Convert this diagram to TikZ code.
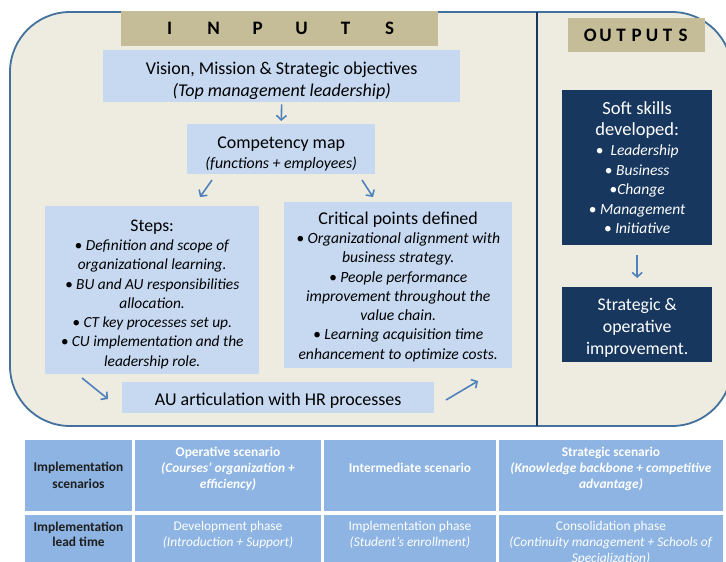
\documentclass[tikz,border=0pt]{standalone}
\usepackage{fontspec}
\setmainfont{Carlito}
\usetikzlibrary{arrows.meta}
\definecolor{bgc}{HTML}{EEECE1}
\definecolor{bord}{HTML}{41719C}
\definecolor{lbox}{HTML}{C6D9F1}
\definecolor{tanc}{HTML}{C4BD97}
\definecolor{navy}{HTML}{17375E}
\definecolor{arrc}{HTML}{4F81BD}
\definecolor{cellc}{HTML}{8DB4E2}
\definecolor{darktxt}{HTML}{1E1E1E}
\begin{document}
\begin{tikzpicture}[x=1pt,y=-1pt,
  lb/.style={fill=lbox, inner sep=0pt, align=center, anchor=north west},
  db/.style={fill=navy, text=white, inner sep=0pt, align=center, anchor=north west},
  tb/.style={fill=tanc, inner sep=0pt, align=center, anchor=north west, font=\fontsize{19}{20}\selectfont\bfseries},
  cellbox/.style={fill=cellc, inner sep=0pt, anchor=north west},
  ttxt/.style={inner sep=0pt, align=center, font=\fontsize{13.4}{16}\selectfont},
  arr/.style={draw=arrc, line width=1.6pt, -{Straight Barb[length=4.5pt,width=10pt]}}
]
\clip (0,0) rectangle (726,562);
\fill[white] (0,0) rectangle (726,562);
% main frame
\draw[fill=bgc, draw=bord, line width=1.8pt, rounded corners=60pt] (10,12) rectangle (732,426);
\draw[navy, line width=1.5pt] (537,12) -- (537,426);
% headers
\node[tb, minimum width=317pt, minimum height=35pt] (inputs) at (121,11)
  {\makebox[44pt]{I}\makebox[44pt]{N}\makebox[44pt]{P}\makebox[44pt]{U}\makebox[44pt]{T}\makebox[44pt]{S}};
\node[tb, minimum width=137pt, minimum height=34pt] (outputs) at (568,18)
  {\makebox[15.5pt]{O}\makebox[15.5pt]{U}\makebox[15.5pt]{T}\makebox[15.5pt]{P}\makebox[15.5pt]{U}\makebox[15.5pt]{T}\makebox[15.5pt]{S}};
% inputs boxes
\node[lb, minimum width=357pt, minimum height=52pt, font=\fontsize{18}{22}\selectfont] (vision) at (103,50)
  {\rule{0pt}{21.5pt}Vision, Mission \& Strategic objectives\\\textit{(Top management leadership)}};
\node[lb, minimum width=188pt, minimum height=50pt, font=\fontsize{17.9}{20}\selectfont] (comp) at (187,124)
  {\rule{0pt}{21.5pt}Competency map\\{\fontsize{15.8}{20}\selectfont\itshape (functions + employees)}};
\node[lb, minimum width=214pt, minimum height=168pt, font=\fontsize{15.4}{19.3}\selectfont] (steps) at (45,206)
  {{\fontsize{17.7}{19.3}\selectfont\rule{0pt}{19.5pt}Steps:}\\
   \textit{• Definition and scope of}\\
   \textit{organizational learning.}\\
   \textit{• BU and AU responsibilities}\\
   \textit{allocation.}\\
   \textit{• CT key processes set up.}\\
   \textit{• CU implementation and the}\\
   \textit{leadership role.}};
\node[lb, minimum width=228pt, minimum height=166pt, font=\fontsize{15.6}{19.3}\selectfont] (crit) at (284,202)
  {{\fontsize{18}{19.3}\selectfont\rule{0pt}{15.5pt}Critical points defined}\\
   \textit{• Organizational alignment with}\\
   \textit{business strategy.}\\
   \textit{• People performance}\\
   \textit{improvement throughout the}\\
   \textit{value chain.}\\
   \textit{• Learning acquisition time}\\
   \textit{enhancement to optimize costs.}};
\node[lb, minimum width=312pt, minimum height=31pt, font=\fontsize{18}{20}\selectfont] (au) at (122,382)
  {\rule{0pt}{17.5pt}AU articulation with HR processes};
% outputs boxes
\node[db, minimum width=150pt, minimum height=155pt, font=\fontsize{15.5}{19.5}\selectfont] (soft) at (562,90)
  {{\fontsize{18.5}{21}\selectfont Soft skills}\\[1.5pt]
   {\fontsize{18.5}{21}\selectfont developed:}\\[1pt]
   •\ \ \textit{Leadership}\\
   • \textit{Business}\\
   •\textit{Change}\\
   • \textit{Management}\\
   • \textit{Initiative}};
\node[db, minimum width=150pt, minimum height=75pt, font=\fontsize{17.8}{22}\selectfont] (strat) at (562,287)
  {\rule{0pt}{17.5pt}Strategic \&\\operative\\improvement.};
% arrows
\coordinate (a1s) at (212,180); \coordinate (a1e) at (200,197);
\coordinate (a2s) at (362,180); \coordinate (a2e) at (373,197);
\coordinate (a3s) at (82,378);  \coordinate (a3e) at (108,399);
\coordinate (a4s) at (446,400); \coordinate (a4e) at (478,381);
\draw[arr, shorten <=2pt, shorten >=3pt] (vision.south) -- (comp.north);
\draw[arr] (a1s) -- (a1e);
\draw[arr] (a2s) -- (a2e);
\draw[arr] (a3s) -- (a3e);
\draw[arr] (a4s) -- (a4e);
\draw[arr, shorten <=10pt, shorten >=9pt] (soft.south) -- (strat.north);
% table
\node[cellbox, minimum width=107pt, minimum height=71pt] (c11) at (25,440) {};
\node[cellbox, minimum width=186pt, minimum height=71pt] (c12) at (135,440) {};
\node[cellbox, minimum width=172pt, minimum height=71pt] (c13) at (324,440) {};
\node[cellbox, minimum width=224pt, minimum height=71pt] (c14) at (499,440) {};
\node[cellbox, minimum width=107pt, minimum height=60pt] (c21) at (25,515) {};
\node[cellbox, minimum width=186pt, minimum height=60pt] (c22) at (135,515) {};
\node[cellbox, minimum width=172pt, minimum height=60pt] (c23) at (324,515) {};
\node[cellbox, minimum width=224pt, minimum height=60pt] (c24) at (499,515) {};
\node[ttxt, text=darktxt, font=\fontsize{13.4}{17}\selectfont\bfseries] (t11) at (78.5,475.5) {Implementation\\scenarios};
\node[ttxt, text=white, font=\fontsize{13.4}{16}\selectfont\bfseries] (t12) at (228,468.5) {Operative scenario\\\textit{(Courses’ organization +}\\\textit{efficiency)}};
\node[ttxt, text=white, font=\fontsize{13.4}{16}\selectfont\bfseries] (t13) at (410,468) {Intermediate scenario};
\node[ttxt, text=white, font=\fontsize{13.4}{16}\selectfont\bfseries] (t14) at (611,468.5) {Strategic scenario\\\textit{(Knowledge backbone + competitive}\\\textit{advantage)}};
\node[ttxt, text=darktxt, font=\fontsize{13.4}{15}\selectfont\bfseries] (t21) at (78.5,534.5) {Implementation\\lead time};
\node[ttxt, text=white] (t22) at (228,534.5) {Development phase\\\textit{(Introduction + Support)}};
\node[ttxt, text=white] (t23) at (410,534.5) {Implementation phase\\\textit{(Student’s enrollment)}};
\node[ttxt, text=white] (t24) at (611,542.5) {Consolidation phase\\\textit{(Continuity management + Schools of}\\\textit{Specialization)}};
\end{tikzpicture}
\end{document}
